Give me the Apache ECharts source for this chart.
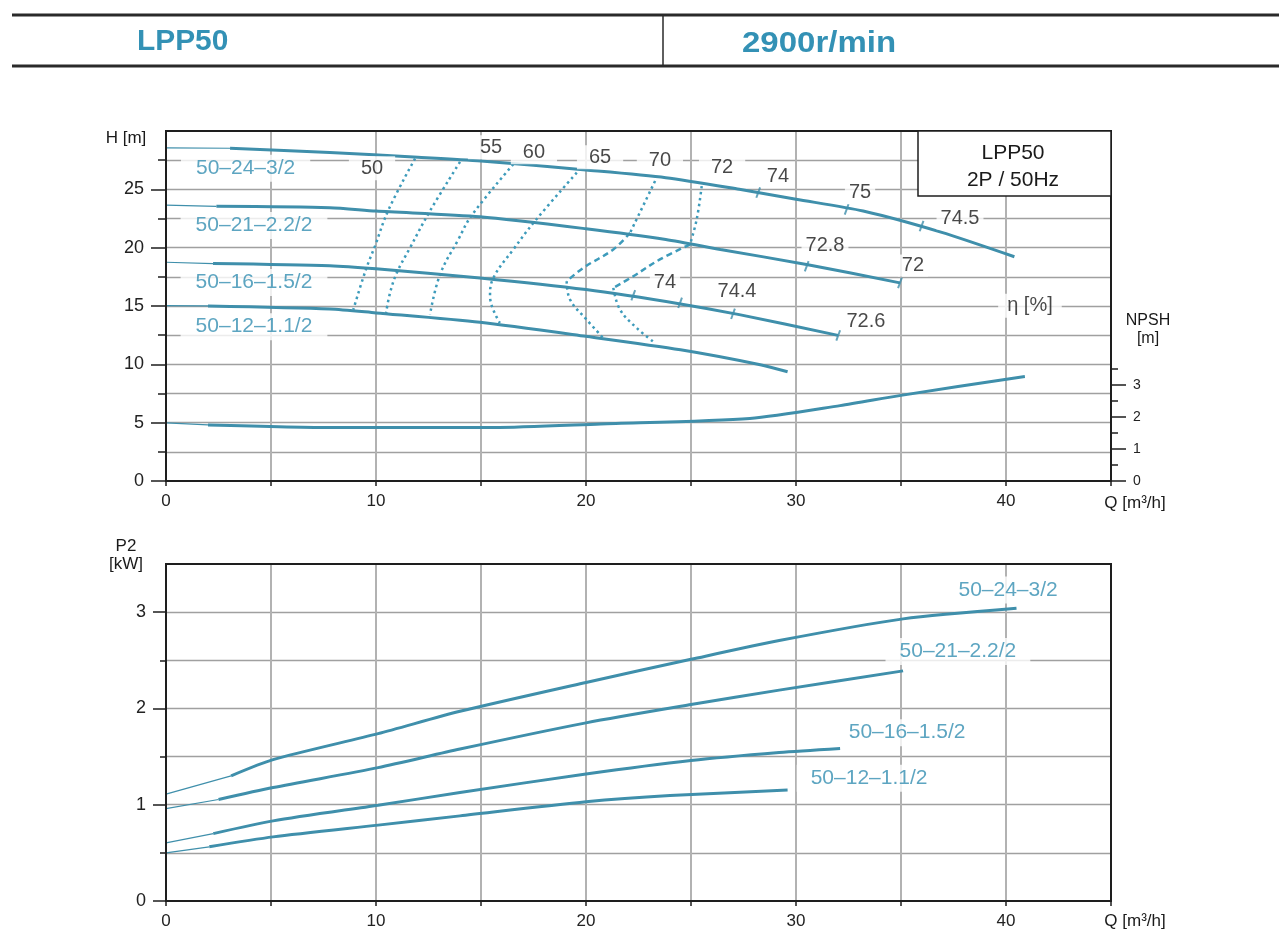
<!DOCTYPE html>
<html><head><meta charset="utf-8">
<script src="https://cdn.jsdelivr.net/npm/echarts@6/dist/echarts.min.js"></script>
<style>html,body{margin:0;padding:0;background:#fff}#c{width:1279px;height:935px}</style>
</head><body><div id="c"></div>
<script>
// ---------------- DATA ----------------
const NAMES = ['50–24–3/2', '50–21–2.2/2', '50–16–1.5/2', '50–12–1.1/2'];
// Head curves H [m] vs Q [m3/h]
const H_24 = [[0,28.55],[3.05,28.52],[7.8,28.15],[12,27.75],[15,27.43],[20,26.66],[23.8,26.0],[27.3,25.0],[30,24.15],[33.2,23.14],[36.9,21.33],[40.4,19.22]];
const H_21 = [[0,23.65],[2.4,23.54],[7.8,23.43],[10,23.14],[14.95,22.65],[20,21.62],[23.8,20.7],[26.4,19.85],[30.5,18.56],[34.95,16.98]];
const H_16 = [[0,18.75],[2.24,18.64],[7.8,18.45],[10,18.19],[14.95,17.41],[20,16.41],[24.5,15.18],[27.3,14.26],[32.0,12.48]];
const H_12 = [[0,15.03],[2.0,15.01],[7.8,14.75],[10,14.41],[14.95,13.6],[20,12.4],[24.5,11.25],[28.3,9.97],[29.6,9.36]];
// NPSH [m]
const NPSH = [[0,1.81],[2.0,1.75],[8,1.67],[15.6,1.67],[20.7,1.78],[27.8,1.95],[32.1,2.35],[35,2.67],[40.9,3.26]];
// Power P2 [kW]
const P_24 = [[0,1.11],[3.1,1.30],[5.1,1.468],[10.1,1.738],[14,1.97],[20,2.27],[25,2.51],[29.2,2.705],[35.1,2.93],[40.5,3.04]];
const P_21 = [[0,0.96],[2.5,1.054],[5.1,1.178],[10.1,1.385],[14,1.578],[20,1.85],[25,2.04],[29.2,2.19],[35.1,2.39]];
const P_16 = [[0,0.604],[2.25,0.70],[5.1,0.832],[10.1,0.995],[14,1.126],[20,1.32],[25,1.46],[29.2,1.543],[32.1,1.585]];
const P_12 = [[0,0.50],[2.06,0.563],[5.1,0.666],[10.1,0.788],[14,0.884],[20,1.03],[24,1.095],[29.6,1.152]];
// Iso-efficiency curves (η %)
const ISO_LABELS = ['50','55','60','65','70','72'];
const ISO_50 = [[11.86,27.64],[10.59,23.22],[9.95,20.13],[9.52,18.13],[8.92,14.69]];
const ISO_55 = [[14.0,27.35],[12.54,23.05],[11.62,19.99],[10.99,17.84],[10.67,16.13],[10.48,14.41]];
const ISO_60 = [[16.54,27.15],[14.56,22.77],[13.92,20.70],[13.05,17.70],[12.57,14.26]];
const ISO_65 = [[19.56,26.43],[17.57,22.28],[16.54,19.85],[15.59,17.41],[15.43,15.83],[15.90,13.55]];
const ISO_70 = [[23.29,25.71],[22.10,21.28],[21.30,19.85],[19.87,18.27],[19.08,17.12],[19.24,15.55],[20.03,13.83],[20.82,12.26]];
const ISO_72 = [[25.51,25.28],[25.27,22.42],[24.95,20.27],[23.52,18.99],[22.25,17.55],[21.30,16.55],[21.62,14.69],[22.41,13.12],[23.29,11.83]];
const ISO_LABEL_AT = [[9.81,26.8],[15.48,28.61],[17.52,28.18],[20.67,27.75],[23.52,27.49],[26.48,26.89]];
// Efficiency marks on head curves
const EFF_TICKS = [[28.2,24.72],[32.41,23.28],[35.98,21.85],[30.51,18.41],[34.95,16.98],[22.25,15.92],[24.48,15.27],[27.0,14.33],[32.01,12.48]];
const EFF_LABELS = ['74','75','74.5','72.8','72','74','74.4','72.6'];
const EFF_LABEL_AT = [[29.14,26.12],[33.05,24.74],[37.81,22.51],[31.38,20.19],[35.57,18.47],[23.76,17.01],[27.19,16.24],[33.33,13.67]];
const ETA_LABEL_AT = [41.14,15.03];
const H_NAME_AT = [[3.79,26.8],[4.19,21.91],[4.19,17.01],[4.19,13.23]];
const P_NAME_AT = [[40.1,3.23],[37.71,2.59],[35.29,1.748],[33.48,1.274]];
// Tick labels
const Q_TICKS = [0,10,20,30,40];
const H_TICKS = [0,5,10,15,20,25];
const NPSH_TICKS = [0,1,2,3];
const P_TICKS = [0,1,2,3];

// ---------------- LAYOUT / STYLE ----------------
const F = '"Liberation Sans", Arial, Helvetica, sans-serif';
const L = 166, W = 945;
const T1 = 131, B1 = 481, H_MAX = 30;
const T2 = 564, B2 = 901, P_MAX = 3.5;
const NPSH_PX = 32.07;
const hy = v => B1 - (B1 - T1) * v / H_MAX;
const py = v => B2 - (B2 - T2) * v / P_MAX;
const CUR = '#3f8fab', TXT = '#358fb1', ISO = '#3d9bbb', INK = '#1e1e1e';

const grids = [
  {left:L, width:W, top:T1, height:B1-T1},                          // 0 top main
  {left:L, width:W, top:B1-3.5*NPSH_PX, height:3.5*NPSH_PX},        // 1 NPSH (minor ticks)
  {left:L, width:W, top:hy(25), height:B1-hy(25)},                  // 2 H major ticks
  {left:L, width:W, top:hy(27.5), height:B1-hy(27.5)},              // 3 H minor ticks
  {left:L, width:W, top:B1-3*NPSH_PX, height:3*NPSH_PX},            // 4 NPSH major ticks
  {left:L, width:W, top:T2, height:B2-T2},                          // 5 bottom main
  {left:L, width:W, top:py(3), height:B2-py(3)},                    // 6 P major ticks
  {left:L, width:W, top:py(3), height:B2-py(3)}                     // 7 P minor ticks
];

const hidden = {axisLine:{show:false, onZero:false}, axisTick:{show:false}, axisLabel:{show:false}, splitLine:{show:false}};
function mainX(gi){
  return {gridIndex:gi, type:'value', min:0, max:45, interval:5,
    axisLine:{show:true, onZero:false, lineStyle:{color:INK, width:2}},
    axisTick:{show:true, length:5, lineStyle:{color:INK, width:1.5}},
    axisLabel:{formatter:v => Q_TICKS.includes(v) ? String(v) : '', fontSize:17, color:'#222', margin:12, fontFamily:F},
    splitLine:{show:true, showMinLine:false, showMaxLine:false, lineStyle:{color:'#b2b2b2', width:2}}};
}
const xAxes = grids.map((g,i) => (i===0||i===5) ? mainX(i) : Object.assign({gridIndex:i, type:'value', min:0, max:45, show:false}, hidden));

function tickY(gi, max, interval, len, labels, pos, fs, margin){
  return {gridIndex:gi, type:'value', min:0, max:max, interval:interval, position:pos||'left',
    axisLine:{show:false, onZero:false}, splitLine:{show:false},
    axisTick:{show:true, length:len, lineStyle:{color:INK, width:1.5}},
    axisLabel: labels ? {show:true, formatter:v => labels.includes(v) ? String(v) : '', fontSize:fs, color:'#222', margin:margin, fontFamily:F} : {show:false}};
}
const yAxes = [
  {gridIndex:0, type:'value', min:0, max:H_MAX, interval:2.5,
    axisLine:{show:true, onZero:false, lineStyle:{color:INK, width:2}}, axisTick:{show:false}, axisLabel:{show:false},
    splitLine:{show:true, showMinLine:false, showMaxLine:false, lineStyle:{color:'#a0a0a0', width:1.3}}},
  tickY(1, 3.5, 0.5, 7, null, 'right'),
  tickY(2, 25, 5, 15, H_TICKS, 'left', 18, 22),
  tickY(3, 27.5, 2.5, 8, null, 'left'),
  tickY(4, 3, 1, 15, NPSH_TICKS, 'right', 14, 22),
  {gridIndex:5, type:'value', min:0, max:P_MAX, interval:0.5,
    axisLine:{show:true, onZero:false, lineStyle:{color:INK, width:2}}, axisTick:{show:false}, axisLabel:{show:false},
    splitLine:{show:true, showMinLine:false, showMaxLine:false, lineStyle:{color:'#a0a0a0', width:1.3}}},
  tickY(6, 3, 1, 13, P_TICKS, 'left', 18, 20),
  tickY(7, 3, 0.5, 6, null, 'left')
];

const series = [];
function curve(data, gi){
  series.push({type:'line', xAxisIndex:gi, yAxisIndex:gi, data:data.slice(0,2), symbol:'none', silent:true, lineStyle:{color:CUR, width:1.2}, z:5});
  series.push({type:'line', xAxisIndex:gi, yAxisIndex:gi, data:data.slice(1), symbol:'none', silent:true, smooth:0.25, lineStyle:{color:CUR, width:3}, z:6});
}
[H_24, H_21, H_16, H_12].forEach(d => curve(d, 0));
curve(NPSH, 1);
[P_24, P_21, P_16, P_12].forEach(d => curve(d, 5));

// iso-efficiency curves; some middle segments drawn dashed
const DOT = [2.5, 3.5], DASH = [6, 4];
function iso(data, parts){
  parts.forEach(([a,b,type]) => series.push({type:'line', xAxisIndex:0, yAxisIndex:0, data:data.slice(a,b+1), symbol:'none', silent:true,
    smooth:0.4, lineStyle:{color:ISO, width:2.5, type:type}, z:4}));
}
iso(ISO_50, [[0,ISO_50.length-1,DOT]]);
iso(ISO_55, [[0,ISO_55.length-1,DOT]]);
iso(ISO_60, [[0,ISO_60.length-1,DOT]]);
iso(ISO_65, [[0,ISO_65.length-1,DOT]]);
iso(ISO_70, [[0,1,DOT],[1,4,DASH],[4,ISO_70.length-1,DOT]]);
iso(ISO_72, [[0,2,DOT],[2,5,DASH],[5,ISO_72.length-1,DOT]]);

// efficiency tick marks
series.push({type:'scatter', xAxisIndex:0, yAxisIndex:0, data:EFF_TICKS, symbol:'rect', symbolSize:[2,11], symbolRotate:-20,
  itemStyle:{color:CUR}, silent:true, z:7});

function labels(points, texts, gi, color, fs, pad, z){
  series.push({type:'scatter', xAxisIndex:gi, yAxisIndex:gi, symbolSize:1, itemStyle:{color:'rgba(0,0,0,0)'}, silent:true, z:z||8,
    data:points.map((p,i) => [p[0], p[1], texts[i]]),
    label:{show:true, position:'inside', formatter:p => p.data[2], color:color, fontSize:fs, fontFamily:F,
      backgroundColor:'#fff', padding:pad}});
}
labels(H_NAME_AT, NAMES, 0, TXT, 21, [3,15]);
labels(ISO_LABEL_AT, ISO_LABELS, 0, '#1a1a1a', 20, [2,12]);
labels(EFF_LABEL_AT, EFF_LABELS, 0, '#1a1a1a', 20, [1,4]);
labels([ETA_LABEL_AT], ['η [%]'], 0, '#1a1a1a', 20, [2,9]);
labels(P_NAME_AT, NAMES, 5, TXT, 21, [3,14]);

function txt(x, y, s, font, fill, align, sx){
  return {type:'text', x:x, y:y, z:70, scaleX:sx||1, style:{text:s, font:font, fill:fill||'#1a1a1a', textAlign:align||'center', textVerticalAlign:'middle', align:align||'center', verticalAlign:'middle'}};
}
const graphic = [
  // header
  {type:'line', shape:{x1:12, y1:15, x2:1279, y2:15}, style:{stroke:'#2a2a2a', lineWidth:3}, z:70},
  {type:'line', shape:{x1:12, y1:66, x2:1279, y2:66}, style:{stroke:'#2a2a2a', lineWidth:3}, z:70},
  {type:'line', shape:{x1:663, y1:15, x2:663, y2:66}, style:{stroke:'#2a2a2a', lineWidth:1.5}, z:70},
  txt(137, 42, 'LPP50', 'bold 29px ' + F, '#3391b5', 'left', 1.03),
  txt(742, 44, '2900r/min', 'bold 30px ' + F, '#3391b5', 'left', 1.1),
  // frames
  {type:'rect', shape:{x:L, y:T1, width:W, height:B1-T1}, style:{fill:'none', stroke:INK, lineWidth:2}, z:60},
  {type:'rect', shape:{x:L, y:T2, width:W, height:B2-T2}, style:{fill:'none', stroke:INK, lineWidth:2}, z:60},
  // model box
  {type:'rect', shape:{x:918, y:T1, width:L+W-918, height:65}, style:{fill:'#fff', stroke:INK, lineWidth:1.5}, z:65},
  txt(1013, 153, 'LPP50', '21px ' + F),
  txt(1013, 180, '2P / 50Hz', '21px ' + F),
  // axis names
  txt(126, 138, 'H [m]', '17px ' + F),
  txt(1135, 503, 'Q [m³/h]', '17px ' + F),
  txt(1148, 321, 'NPSH', '16px ' + F),
  txt(1148, 339, '[m]', '16px ' + F),
  txt(126, 546, 'P2', '17px ' + F),
  txt(126, 564, '[kW]', '17px ' + F),
  txt(1135, 921, 'Q [m³/h]', '17px ' + F)
];

const chart = echarts.init(document.getElementById('c'), null, {renderer:'canvas'});
chart.setOption({
  animation:false, backgroundColor:'#fff',
  grid:grids, xAxis:xAxes, yAxis:yAxes, series:series, graphic:{elements:graphic}
});
</script></body></html>
